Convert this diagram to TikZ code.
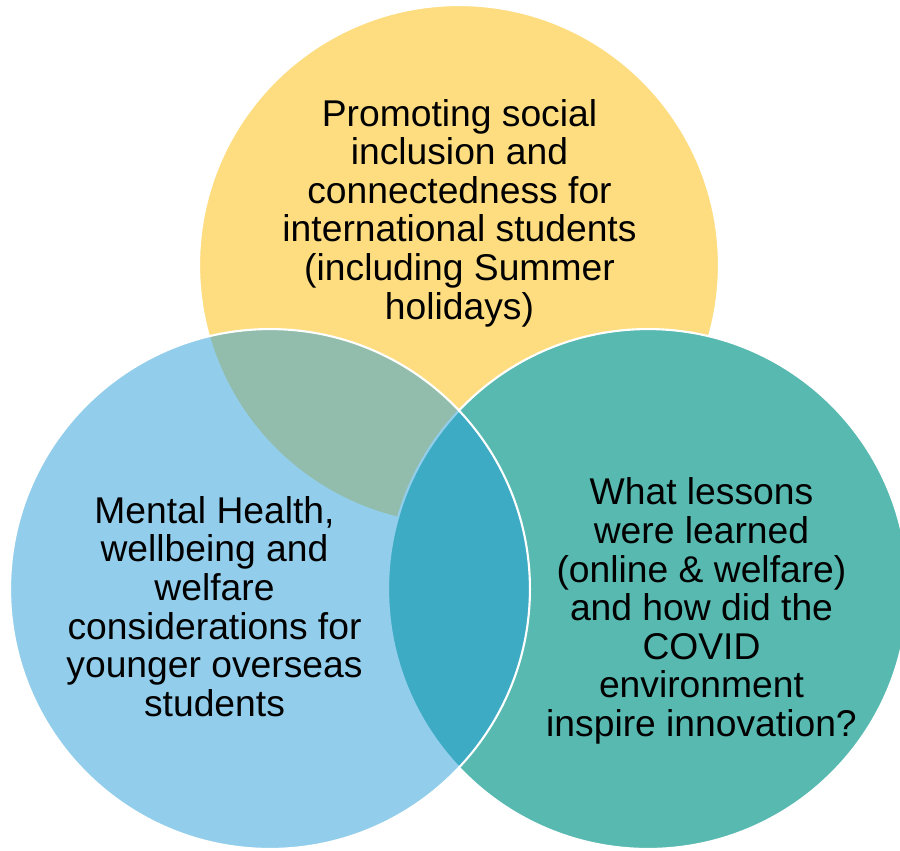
\documentclass[tikz,border=0pt]{standalone}
\usepackage{fontspec}
\setmainfont{Liberation Sans}
\definecolor{vyellow}{RGB}{254,221,129}
\definecolor{vteal}{RGB}{87,185,176}
\definecolor{vblue}{RGB}{39,159,217}
\tikzset{
  vcircle/.style={circle, minimum size=10.4cm, inner sep=0pt, draw=white, line width=1.2pt},
  vtext/.style={align=center, text=black, inner sep=0pt, font=\fontsize{21.2}{21.95}\selectfont}
}
\begin{document}
\begin{tikzpicture}[x=0.02cm, y=-0.02cm]
\clip (0,0) rectangle (900,850);
\fill[white] (0,0) rectangle (900,850);
\node[vcircle, fill=vyellow] (top) at (459,265) {};
\node[vcircle, fill=vteal] (right) at (648,589) {};
\node[vcircle, fill=vblue, fill opacity=0.5] (left) at (270,589) {};
\node[vtext] (toptext) at (459.5,213) {Promoting social\\inclusion and\\connectedness for\\international students\\(including Summer\\holidays)};
\node[vtext] (lefttext) at (214.5,606.5) {Mental Health,\\wellbeing and\\welfare\\considerations for\\younger overseas\\students};
\node[vtext] (righttext) at (701.5,611) {What lessons\\were learned\\(online \& welfare)\\and how did the\\COVID\\environment\\inspire innovation?};
\end{tikzpicture}
\end{document}
